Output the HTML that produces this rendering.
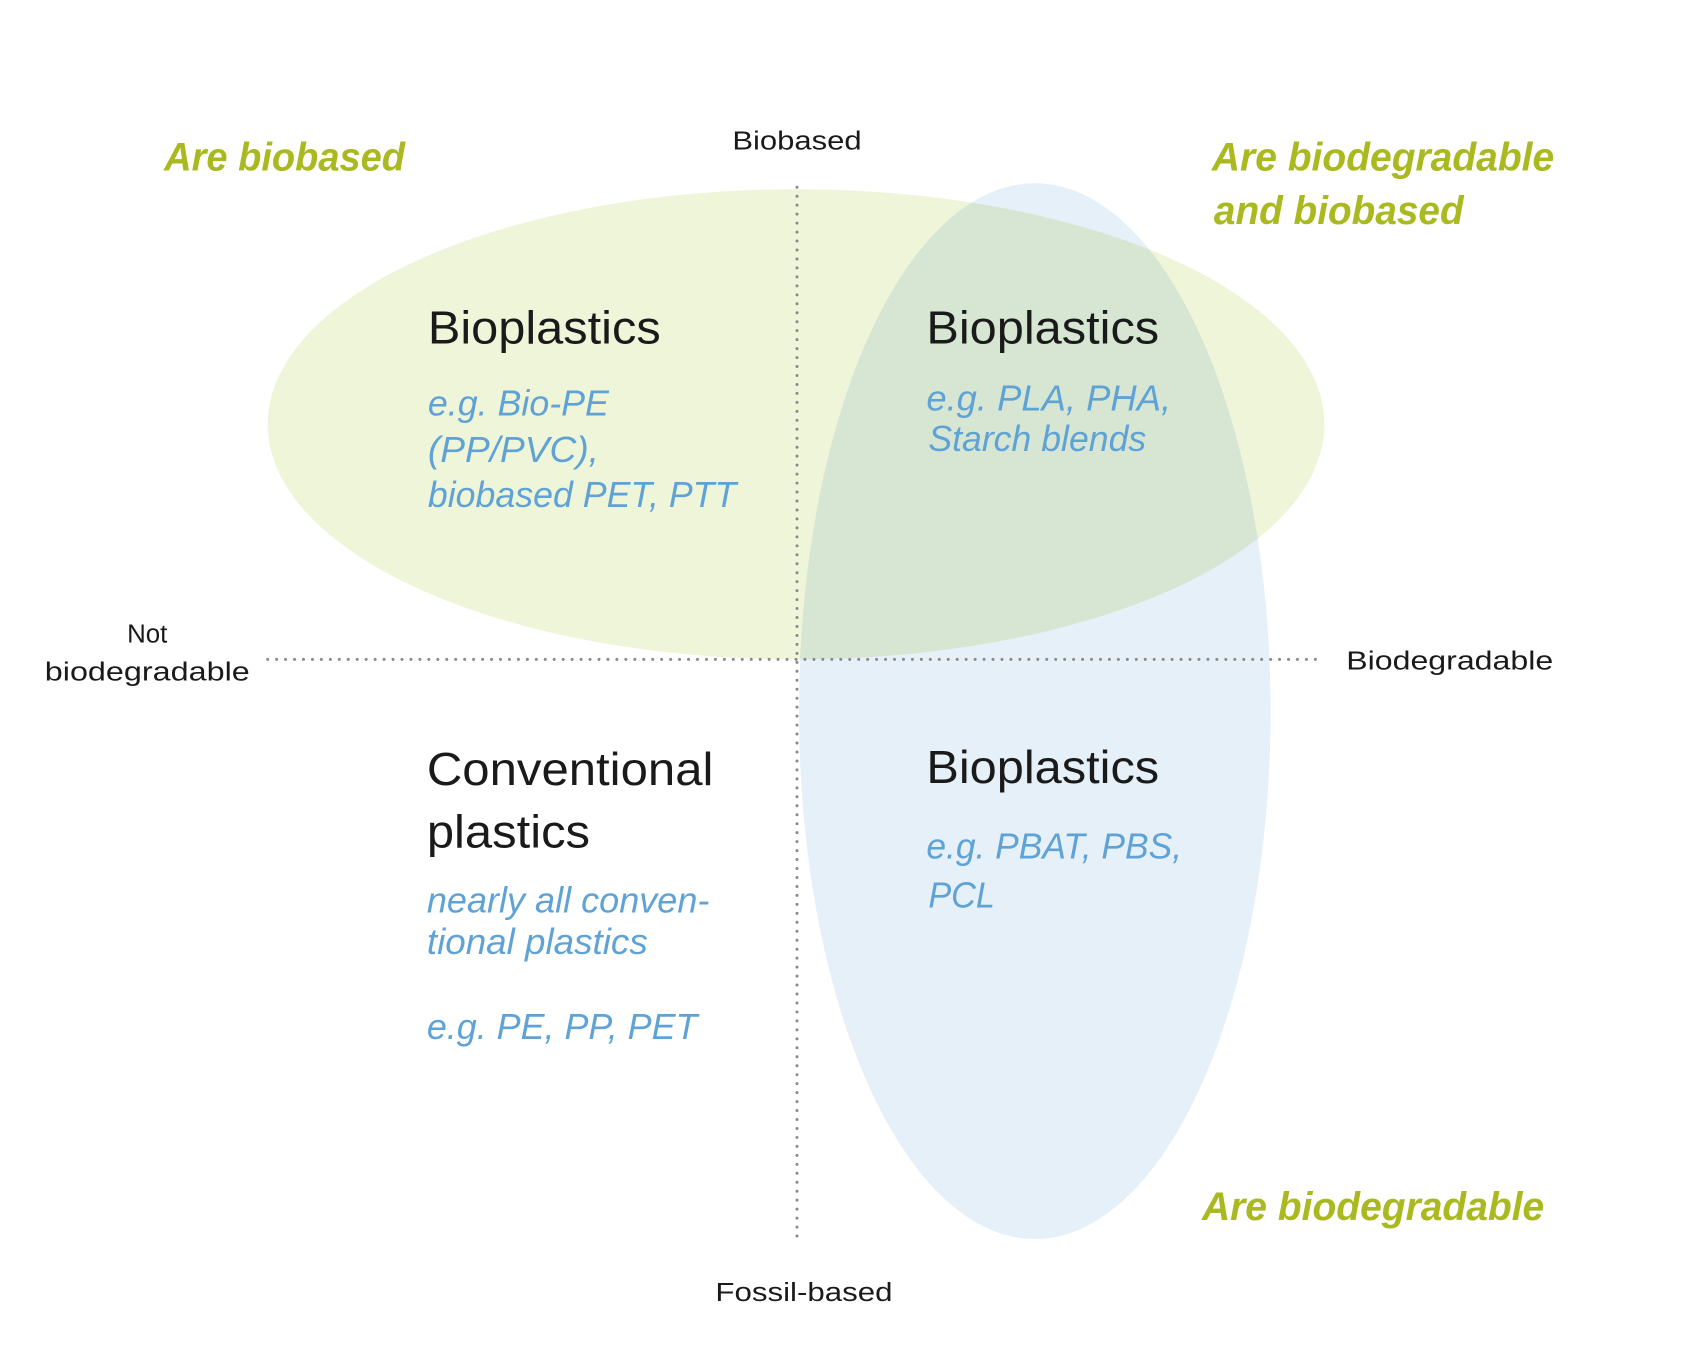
<!DOCTYPE html>
<html><head><meta charset="utf-8"><style>
html,body{margin:0;padding:0;background:#fff}
svg{display:block}
text{font-family:"Liberation Sans",sans-serif}
.g{fill:#a9b91f;font-weight:bold;font-style:italic;font-size:40px}
.k{fill:#1a1a1a;font-size:26px}
.h{fill:#1a1a1a;font-size:47px}
.b{fill:#5fa2d6;font-style:italic;font-size:36px}
</style></head><body>
<svg width="1691" height="1369" viewBox="0 0 1691 1369" xmlns="http://www.w3.org/2000/svg">
<g transform="scale(0.995,0.996)">
<ellipse cx="800" cy="426" rx="531" ry="236" fill="#eff5d9"/>
<ellipse cx="1040" cy="714" rx="237" ry="530" fill="#e5f0f8" style="mix-blend-mode:multiply"/>
<line x1="801" y1="188" x2="801" y2="1247" stroke="#888" stroke-width="3" stroke-dasharray="0 9" stroke-linecap="round"/>
<line x1="269" y1="662" x2="1328" y2="662" stroke="#888" stroke-width="3" stroke-dasharray="0 9" stroke-linecap="round"/>

<text class="g" x="165" y="171" textLength="242" lengthAdjust="spacingAndGlyphs">Are biobased</text>
<text class="g" x="1218" y="171" textLength="344" lengthAdjust="spacingAndGlyphs">Are biodegradable</text>
<text class="g" x="1220" y="225" textLength="251" lengthAdjust="spacingAndGlyphs">and biobased</text>
<text class="g" x="1208" y="1225" textLength="344" lengthAdjust="spacingAndGlyphs">Are biodegradable</text>

<text class="k" x="736" y="150" textLength="130" lengthAdjust="spacingAndGlyphs">Biobased</text>
<text class="k" x="719" y="1306" textLength="178" lengthAdjust="spacingAndGlyphs">Fossil-based</text>
<text class="k" x="148" y="645" text-anchor="middle" font-size="28">Not</text>
<text class="k" x="45" y="683" textLength="206" lengthAdjust="spacingAndGlyphs">biodegradable</text>
<text class="k" x="1353" y="672" textLength="208" lengthAdjust="spacingAndGlyphs">Biodegradable</text>

<text class="h" x="430" y="345" textLength="234" lengthAdjust="spacingAndGlyphs">Bioplastics</text>
<text class="b" x="430" y="417" textLength="182" lengthAdjust="spacingAndGlyphs">e.g. Bio-PE</text>
<text class="b" x="430" y="464" textLength="172" lengthAdjust="spacingAndGlyphs">(PP/PVC),</text>
<text class="b" x="430" y="509" textLength="310" lengthAdjust="spacingAndGlyphs">biobased PET, PTT</text>

<text class="h" x="931" y="345" textLength="234" lengthAdjust="spacingAndGlyphs">Bioplastics</text>
<text class="b" x="931" y="412" textLength="246" lengthAdjust="spacingAndGlyphs">e.g. PLA, PHA,</text>
<text class="b" x="933" y="453" textLength="219" lengthAdjust="spacingAndGlyphs">Starch blends</text>

<text class="h" x="429" y="788" textLength="288" lengthAdjust="spacingAndGlyphs">Conventional</text>
<text class="h" x="429" y="851" textLength="164" lengthAdjust="spacingAndGlyphs">plastics</text>
<text class="b" x="429" y="916" textLength="284" lengthAdjust="spacingAndGlyphs">nearly all conven-</text>
<text class="b" x="429" y="958" textLength="222" lengthAdjust="spacingAndGlyphs">tional plastics</text>
<text class="b" x="429" y="1043" textLength="272" lengthAdjust="spacingAndGlyphs">e.g. PE, PP, PET</text>

<text class="h" x="931" y="786" textLength="234" lengthAdjust="spacingAndGlyphs">Bioplastics</text>
<text class="b" x="931" y="862" textLength="257" lengthAdjust="spacingAndGlyphs">e.g. PBAT, PBS,</text>
<text class="b" x="933" y="911" textLength="67" lengthAdjust="spacingAndGlyphs">PCL</text>
</g>
</svg>
</body></html>
